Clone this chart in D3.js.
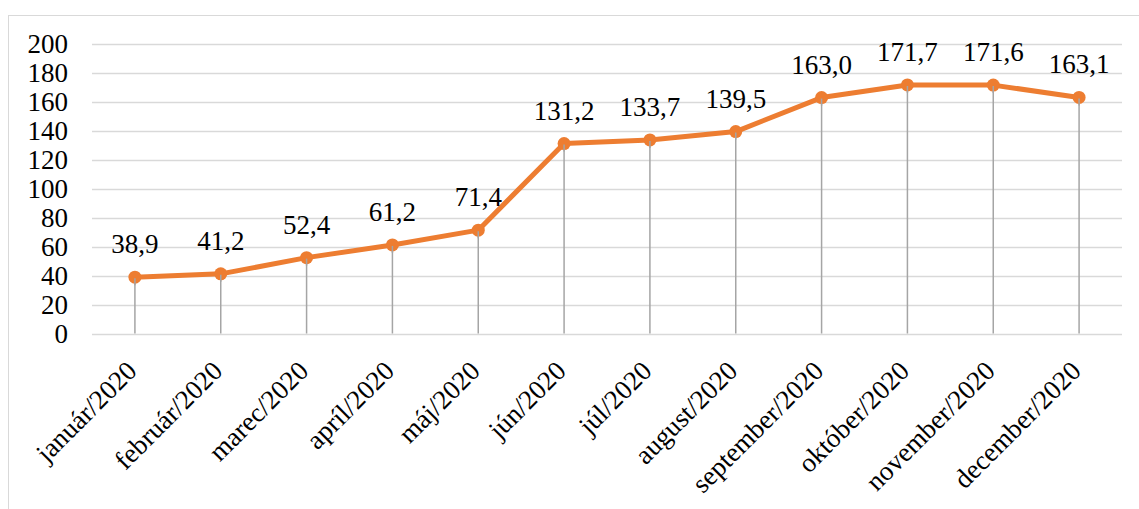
<!DOCTYPE html>
<html>
<head>
<meta charset="utf-8">
<script src="https://cdn.jsdelivr.net/npm/d3@7"></script>
<style>
  body { margin: 0; background: #fff; }
  #chart text { font-family: 'Liberation Serif' !important; }
</style>
</head>
<body>
<svg id="chart" width="1139" height="509" font-family="Liberation Serif"></svg>
<script>
// months of 2020
var months = ['január/2020', 'február/2020', 'marec/2020', 'apríl/2020', 'máj/2020', 'jún/2020',
  'júl/2020', 'august/2020', 'september/2020', 'október/2020', 'november/2020', 'december/2020'];
var values = [38.9, 41.2, 52.4, 61.2, 71.4, 131.2, 133.7, 139.5, 163.0, 171.7, 171.6, 163.1];
var yTicks = [0, 20, 40, 60, 80, 100, 120, 140, 160, 180, 200];

var svg = d3.select('#chart');
var plot = { left: 92, right: 1122, top: 44, bottom: 333.5 };
var fontSize = 27;
var serif = 'Liberation Serif';

// chart area frame (extends past the window on right and bottom)
svg.append('rect')
  .attr('x', 8.5).attr('y', 15.5)
  .attr('width', 1200).attr('height', 600)
  .attr('fill', 'none').attr('stroke', '#d9d9d9').attr('stroke-width', 1);

var x = d3.scaleBand().domain(months).range([plot.left, plot.right]);
var y = d3.scaleLinear().domain([0, 200]).range([plot.bottom, plot.top]);
var cx = function(d) { return x(d) + x.bandwidth() / 2; };
var fmt = function(v) { return d3.format('.1f')(v).replace('.', ','); };

function label(sel) {
  sel.attr('font-family', serif)
    .style('font-family', "'" + serif + "'")
    .style('font-size', fontSize + 'px')
    .attr('fill', '#000');
}

// gridlines
svg.append('g').selectAll('line').data(yTicks).enter().append('line')
  .attr('x1', plot.left).attr('x2', plot.right)
  .attr('y1', function(d) { return Math.round(y(d)) + 0.5; })
  .attr('y2', function(d) { return Math.round(y(d)) + 0.5; })
  .attr('stroke', '#d9d9d9').attr('stroke-width', 1.5);

// y tick labels
svg.append('g').selectAll('text').data(yTicks).enter().append('text')
  .attr('x', 68).attr('y', function(d) { return y(d); })
  .attr('dy', '0.34em')
  .attr('text-anchor', 'end')
  .call(label)
  .text(function(d) { return d; });

var pts = months.map(function(m, i) { return { m: m, v: values[i] }; });

// drop lines
svg.append('g').selectAll('line').data(pts).enter().append('line')
  .attr('x1', function(d) { return cx(d.m); }).attr('x2', function(d) { return cx(d.m); })
  .attr('y1', function(d) { return y(d.v); }).attr('y2', y(0))
  .attr('stroke', '#a5a5a5').attr('stroke-width', 1.5);

// series line
var line = d3.line().x(function(d) { return cx(d.m); }).y(function(d) { return y(d.v); });
svg.append('path').datum(pts)
  .attr('d', line)
  .attr('fill', 'none').attr('stroke', '#ed7d31').attr('stroke-width', 5)
  .attr('stroke-linejoin', 'round');

// markers
svg.append('g').selectAll('circle').data(pts).enter().append('circle')
  .attr('cx', function(d) { return cx(d.m); }).attr('cy', function(d) { return y(d.v); })
  .attr('r', 6.5).attr('fill', '#ed7d31');

// a thin drop line shows over the marker in the reference
svg.append('g').selectAll('line').data(pts).enter().append('line')
  .attr('x1', function(d) { return cx(d.m); }).attr('x2', function(d) { return cx(d.m); })
  .attr('y1', function(d) { return y(d.v) + 1; }).attr('y2', function(d) { return y(d.v) + 8; })
  .attr('stroke', '#a5a5a5').attr('stroke-width', 1.5);

// data labels
svg.append('g').selectAll('text').data(pts).enter().append('text')
  .attr('x', function(d) { return cx(d.m); })
  .attr('y', function(d) { return y(d.v) - 24; })
  .attr('text-anchor', 'middle')
  .call(label)
  .text(function(d) { return fmt(d.v); });

// x labels rotated -45
svg.append('g').selectAll('text').data(months).enter().append('text')
  .attr('transform', function(d) { return 'translate(' + (cx(d) - 10) + ',' + 359 + ') rotate(-45)'; })
  .attr('text-anchor', 'end')
  .attr('dy', '0.7em')
  .call(label)
  .text(function(d) { return d; });
</script>
</body>
</html>
